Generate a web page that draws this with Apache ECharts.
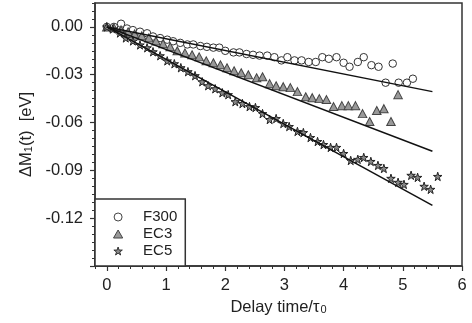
<!DOCTYPE html>
<html><head><meta charset="utf-8">
<script src="https://cdn.jsdelivr.net/npm/echarts@6/dist/echarts.min.js"></script>
<style>html,body{margin:0;padding:0;background:#fff}#c{width:472px;height:323px}</style>
</head><body><div id="c"></div>
<script>
const f300X = [0,0.12,0.24,0.34,0.44,0.56,0.68,0.78,0.90,1.02,1.12,1.24,1.36,1.46,1.58,1.69,1.80,1.90,2.00,2.14,2.24,2.36,2.47,2.58,2.71,2.83,2.95,3.05,3.17,3.29,3.41,3.53,3.64,3.75,3.88,4.00,4.10,4.24,4.34,4.47,4.59,4.71,4.83,4.93,5.07,5.17];
const f300Y = [0,0,0.002,-0.001,-0.002,-0.003,-0.004,-0.006,-0.007,-0.008,-0.009,-0.010,-0.011,-0.011,-0.012,-0.0125,-0.013,-0.013,-0.015,-0.016,-0.016,-0.017,-0.0175,-0.018,-0.018,-0.019,-0.021,-0.019,-0.021,-0.021,-0.022,-0.022,-0.019,-0.020,-0.019,-0.0225,-0.025,-0.022,-0.019,-0.024,-0.025,-0.035,-0.023,-0.035,-0.035,-0.0325];
const ec3X = [0,0.12,0.24,0.36,0.47,0.59,0.71,0.83,0.95,1.07,1.19,1.32,1.44,1.56,1.68,1.80,1.92,2.03,2.15,2.27,2.39,2.53,2.63,2.75,2.86,2.98,3.10,3.22,3.36,3.47,3.59,3.71,3.83,3.97,4.08,4.20,4.32,4.44,4.56,4.68,4.80,4.92];
const ec3Y = [0,-0.0006,-0.0019,-0.0031,-0.0044,-0.0056,-0.0069,-0.0088,-0.0106,-0.0125,-0.015,-0.0163,-0.0175,-0.0188,-0.0213,-0.0225,-0.0238,-0.0256,-0.0275,-0.0288,-0.030,-0.0319,-0.0313,-0.0356,-0.0369,-0.0375,-0.0381,-0.0406,-0.0438,-0.0444,-0.045,-0.0456,-0.050,-0.0494,-0.0494,-0.0494,-0.0544,-0.0594,-0.0525,-0.0513,-0.0594,-0.0425];
const ec5X = [0,0.10,0.22,0.32,0.44,0.56,0.68,0.78,0.90,1.02,1.14,1.25,1.37,1.49,1.61,1.71,1.83,1.95,2.05,2.17,2.29,2.41,2.51,2.63,2.75,2.86,2.98,3.08,3.22,3.32,3.44,3.56,3.66,3.78,3.88,4.00,4.12,4.24,4.34,4.46,4.58,4.68,4.80,4.92,5.02,5.14,5.25,5.36,5.47,5.59];
const ec5Y = [0,-0.0013,-0.0038,-0.0069,-0.0088,-0.0113,-0.0131,-0.0156,-0.0181,-0.0213,-0.0231,-0.0256,-0.0281,-0.0306,-0.0344,-0.0369,-0.0388,-0.0413,-0.0425,-0.0469,-0.0481,-0.050,-0.0506,-0.0544,-0.0581,-0.0575,-0.0606,-0.0625,-0.0656,-0.0663,-0.0694,-0.0719,-0.0738,-0.0756,-0.0756,-0.0794,-0.0838,-0.0831,-0.0819,-0.0844,-0.0869,-0.0888,-0.095,-0.0975,-0.0988,-0.0931,-0.0944,-0.100,-0.1019,-0.0938];
const fitX = [0, 5.5];
const f300Fit = [0, -0.0406];
const ec3Fit = [0, -0.078];
const ec5Fit = [0, -0.112];
const seriesNames = ['F300', 'EC3', 'EC5'];
const xTickLabels = [0, 1, 2, 3, 4, 5, 6];
const yTickLabels = [0.00, -0.03, -0.06, -0.09, -0.12];

const pair = (xs, ys) => xs.map((x, i) => [x, ys[i]]);
const STAR = 'path://M50,0 L61,35 L98,35 L68,57 L79,91 L50,70 L21,91 L32,57 L2,35 L39,35 Z';
const FONT = 'Liberation Sans, Arial, sans-serif';
const AX = '#333';

const chart = echarts.init(document.getElementById('c'));
const gridRect = {left: 95, top: 3, right: 10, bottom: 57};
const xRange = {min: -0.2, max: 6};
const yRange = {min: -0.15, max: 0.015};

chart.setOption({
  animation: false,
  grid: [
    Object.assign({show: true, borderColor: AX, borderWidth: 1.5, backgroundColor: 'transparent'}, gridRect),
    Object.assign({show: false}, gridRect)
  ],
  xAxis: [
    Object.assign({type: 'value', gridIndex: 0,
      name: '{a|Delay time/τ}{s|0}', nameLocation: 'middle', nameGap: 21,
      nameTextStyle: {rich: {a: {fontFamily: FONT, fontSize: 16.5, color: '#222'}, s: {fontFamily: FONT, fontSize: 11, color: '#222', verticalAlign: 'bottom', padding: [0,0,0,1]}}, verticalAlign: 'top'},
      axisLine: {show: true, onZero: false, lineStyle: {color: AX, width: 1.5}},
      axisTick: {show: true, length: 5, customValues: xTickLabels, lineStyle: {color: AX, width: 1.2}},
      axisLabel: {customValues: xTickLabels, margin: 11, fontFamily: FONT, fontSize: 16.5, color: '#222'},
      splitLine: {show: false}}, xRange),
    Object.assign({type: 'value', gridIndex: 1, interval: 0.2,
      axisLine: {show: false, onZero: false},
      axisTick: {show: true, length: 3, lineStyle: {color: AX, width: 1}},
      axisLabel: {show: false}, splitLine: {show: false}}, xRange)
  ],
  yAxis: [
    Object.assign({type: 'value', gridIndex: 0,
      name: '{a|ΔM}{s|1}{a|(t)  [eV]}', nameLocation: 'middle', nameGap: 59, nameRotate: 90,
      nameTextStyle: {rich: {a: {fontFamily: FONT, fontSize: 16.5, color: '#222'}, s: {fontFamily: FONT, fontSize: 11, color: '#222', verticalAlign: 'bottom'}}},
      axisLine: {show: true, onZero: false, lineStyle: {color: AX, width: 1.5}},
      axisTick: {show: true, length: 5, customValues: yTickLabels.concat([-0.15]), lineStyle: {color: AX, width: 1.2}},
      axisLabel: {customValues: yTickLabels, margin: 12, fontFamily: FONT, fontSize: 16.5, color: '#222',
        formatter: v => (Math.abs(v) < 1e-9 ? 0 : v).toFixed(2)},
      splitLine: {show: false}}, yRange),
    Object.assign({type: 'value', gridIndex: 1, interval: 0.005,
      axisLine: {show: false, onZero: false},
      axisTick: {show: true, length: 3, lineStyle: {color: AX, width: 1}},
      axisLabel: {show: false}, splitLine: {show: false}}, yRange)
  ],
  legend: {
    orient: 'vertical', left: 95, top: 199,
    padding: [10, 8, 7, 18], itemGap: 1,
    itemWidth: 40, itemHeight: 8, symbolKeepAspect: true,
    borderColor: AX, borderWidth: 1.5, backgroundColor: '#fff',
    textStyle: {fontFamily: FONT, fontSize: 15, color: '#222', lineHeight: 16},
    data: [
      {name: seriesNames[0], icon: 'circle', itemStyle: {color: '#fff', borderColor: '#444', borderWidth: 1}},
      {name: seriesNames[1], icon: 'path://M50,0 L100,87 L0,87 Z', itemStyle: {color: '#999', borderColor: '#444', borderWidth: 1}},
      {name: seriesNames[2], icon: STAR, itemStyle: {color: '#888', borderColor: '#333', borderWidth: 1}}
    ]
  },
  series: [
    {name: seriesNames[0], type: 'scatter', data: pair(f300X, f300Y), symbol: 'circle', symbolSize: 7.5,
     itemStyle: {color: '#fff', borderColor: '#333', borderWidth: 1, opacity: 1}, z: 2},
    {name: seriesNames[1], type: 'scatter', data: pair(ec3X, ec3Y), symbol: 'triangle', symbolSize: [8.5, 8],
     itemStyle: {color: '#999', borderColor: '#444', borderWidth: 1, opacity: 1}, z: 2},
    {name: seriesNames[2], type: 'scatter', data: pair(ec5X, ec5Y), symbol: STAR, symbolSize: 8.5,
     itemStyle: {color: '#888', borderColor: '#222', borderWidth: 1, opacity: 1}, z: 2},
    {name: 'fitF300', type: 'line', data: pair(fitX, f300Fit), showSymbol: false, lineStyle: {color: '#111', width: 1.5}, z: 3},
    {name: 'fitEC3', type: 'line', data: pair(fitX, ec3Fit), showSymbol: false, lineStyle: {color: '#111', width: 1.5}, z: 3},
    {name: 'fitEC5', type: 'line', data: pair(fitX, ec5Fit), showSymbol: false, lineStyle: {color: '#111', width: 1.5}, z: 3}
  ]
});
</script></body></html>
